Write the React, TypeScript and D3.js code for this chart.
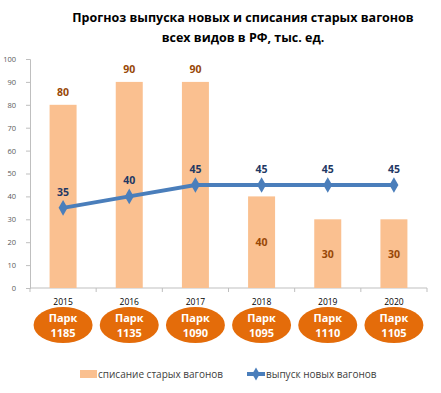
import React, { useEffect, useRef } from 'react';
import * as d3 from 'd3';

const years = ['2015', '2016', '2017', '2018', '2019', '2020'];
const writeOff = [80, 90, 90, 40, 30, 30];
const newWagons = [35, 40, 45, 45, 45, 45];
const park = [1185, 1135, 1090, 1095, 1110, 1105];
const yTicks = [0, 10, 20, 30, 40, 50, 60, 70, 80, 90, 100];

const FONT = '"Open Sans", "Noto Sans", sans-serif';

const App: React.FC = () => {
    const svgRef = useRef<SVGSVGElement>(null);

    useEffect(() => {
        if (!svgRef.current) return;
        const svg = d3.select(svgRef.current);
        svg.selectAll('*').remove();

        const left = 30, right = 427, top = 59, bottom = 288;

        const x = d3.scaleBand<string>().domain(years).range([left, right]);
        const y = d3.scaleLinear().domain([0, 100]).range([bottom, top]);

        // title
        const title = svg.append('text')
            .attr('text-anchor', 'middle')
            .attr('font-family', FONT)
            .attr('font-weight', 'bold')
            .attr('font-size', 12.5)
            .attr('fill', '#000');
        title.append('tspan').attr('x', 243).attr('y', 22).text('Прогноз выпуска новых и списания старых вагонов');
        title.append('tspan').attr('x', 243).attr('y', 42).text('всех видов в РФ, тыс. ед.');

        // axes
        const yAxis = svg.append('g')
            .attr('transform', `translate(${left},0)`)
            .call(d3.axisLeft(y).tickValues(yTicks).tickSize(4).tickPadding(10));
        yAxis.select('.domain').attr('stroke', '#bfbfbf');
        yAxis.selectAll('.tick line').attr('stroke', '#bfbfbf');
        yAxis.selectAll('.tick text')
            .attr('font-family', FONT).attr('font-size', 7.5).attr('fill', '#595959');

        const xAxis = svg.append('g').attr('transform', `translate(0,${bottom})`);
        xAxis.append('line').attr('x1', left).attr('x2', right).attr('stroke', '#bfbfbf');
        xAxis.selectAll('line.tk')
            .data(d3.range(years.length + 1))
            .join('line')
            .attr('class', 'tk')
            .attr('x1', i => left + i * x.step())
            .attr('x2', i => left + i * x.step())
            .attr('y1', 0).attr('y2', 4)
            .attr('stroke', '#bfbfbf');

        // bars
        const bw = 27;
        svg.selectAll('rect.bar')
            .data(writeOff)
            .join('rect')
            .attr('class', 'bar')
            .attr('x', (_, i) => x(years[i])! + x.bandwidth() / 2 - bw / 2)
            .attr('y', d => y(d))
            .attr('width', bw)
            .attr('height', d => bottom - y(d))
            .attr('fill', '#fac090');

        svg.selectAll('text.barlbl')
            .data(writeOff)
            .join('text')
            .attr('class', 'barlbl')
            .attr('x', (_, i) => x(years[i])! + x.bandwidth() / 2)
            .attr('y', d => d > 50 ? y(d) - 9 : (y(d) + bottom) / 2 + 4)
            .attr('text-anchor', 'middle')
            .attr('font-family', FONT)
            .attr('font-weight', 'bold')
            .attr('font-size', 10.5)
            .attr('fill', '#984807')
            .text(d => d);

        // line
        const cx = (i: number) => x(years[i])! + x.bandwidth() / 2;
        const line = d3.line<number>().x((_, i) => cx(i)).y(d => y(d));
        svg.append('path')
            .datum(newWagons)
            .attr('d', line)
            .attr('fill', 'none')
            .attr('stroke', '#4a7ebb')
            .attr('stroke-width', 4);

        svg.selectAll('path.mk')
            .data(newWagons)
            .join('path')
            .attr('class', 'mk')
            .attr('d', d3.symbol(d3.symbolDiamond, 70))
            .attr('transform', (d, i) => `translate(${cx(i)},${y(d)})`)
            .attr('fill', '#4a7ebb');

        svg.selectAll('text.lnlbl')
            .data(newWagons)
            .join('text')
            .attr('class', 'lnlbl')
            .attr('x', (_, i) => cx(i))
            .attr('y', d => y(d) - 12)
            .attr('text-anchor', 'middle')
            .attr('font-family', FONT)
            .attr('font-weight', 'bold')
            .attr('font-size', 10.5)
            .attr('fill', '#1f3864')
            .text(d => d);

        // year labels
        svg.selectAll('text.yr')
            .data(years)
            .join('text')
            .attr('class', 'yr')
            .attr('x', d => x(d)! + x.bandwidth() / 2)
            .attr('y', 305)
            .attr('text-anchor', 'middle')
            .attr('font-family', FONT)
            .attr('font-size', 8.5)
            .attr('fill', '#000')
            .text(d => d);

        // park ellipses
        const pg = svg.selectAll('g.park')
            .data(park)
            .join('g')
            .attr('class', 'park')
            .attr('transform', (_, i) => `translate(${cx(i)},325)`);
        pg.append('ellipse')
            .attr('rx', 29.5).attr('ry', 18)
            .attr('fill', '#e46c0a');
        pg.append('text')
            .attr('y', -3)
            .attr('text-anchor', 'middle')
            .attr('font-family', FONT)
            .attr('font-weight', 'bold')
            .attr('font-size', 11)
            .attr('fill', '#fff')
            .text('Парк');
        pg.append('text')
            .attr('y', 11.5)
            .attr('text-anchor', 'middle')
            .attr('font-family', FONT)
            .attr('font-weight', 'bold')
            .attr('font-size', 11)
            .attr('fill', '#fff')
            .text(d => d);

        // legend
        const lg = svg.append('g').attr('font-family', FONT).attr('font-size', 10).attr('fill', '#404040');
        lg.append('rect').attr('x', 80).attr('y', 370).attr('width', 17).attr('height', 8).attr('fill', '#fac090');
        lg.append('text').attr('x', 98).attr('y', 378).text('списание старых вагонов');
        lg.append('line').attr('x1', 247).attr('x2', 265).attr('y1', 374).attr('y2', 374)
            .attr('stroke', '#4a7ebb').attr('stroke-width', 4);
        lg.append('path').attr('d', d3.symbol(d3.symbolDiamond, 50))
            .attr('transform', 'translate(256,374)').attr('fill', '#4a7ebb');
        lg.append('text').attr('x', 266).attr('y', 378).text('выпуск новых вагонов');
    }, []);

    return (
        <svg ref={svgRef} width={441} height={393}
            style={{ position: 'absolute', left: 0, top: 0, background: '#fff' }} />
    );
};

export default App;
